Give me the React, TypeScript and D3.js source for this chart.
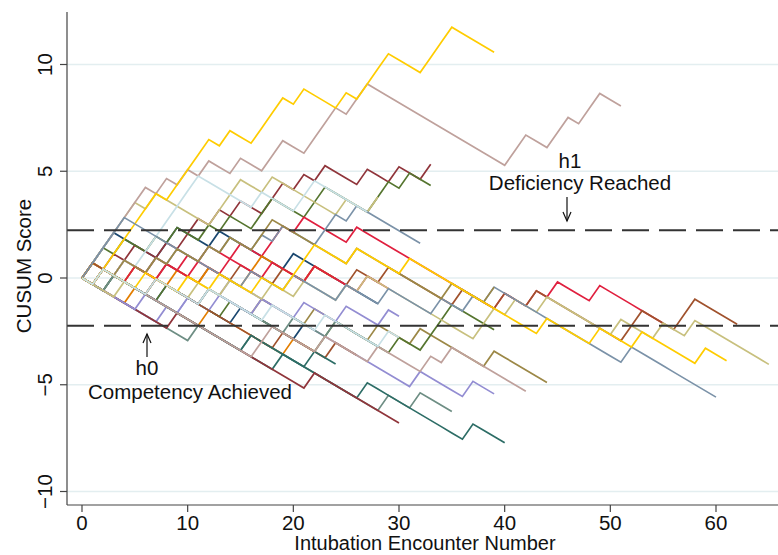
import React from 'react';
import * as d3 from 'd3';

// outcome of each intubation encounter, in order: 1 = failure, 0 = success
// (spaces only group the runs, they are stripped)
const navyA = '111 0000 11 000 1 000000 1 00000000';
const maroonA = '1010100101101 0 1 00 11 0 1 0 1 000 1 00 1 00 1';
const forestA = '1101001010010100 11 000 11 0000 1 1 0 1 00';
const orangeA = '00001 0000001 00000001 00';
const tealA = '0000000000 1 0000 1 00 0000000000 1 00 1 000';
const cranA = '010100100101001001 1 0 1 000 0 1 0000000000000 1 00 1 0 1 000 1 000000';
const lavA = '0000000 1010101 00000000000000000 1 0000 1 00';
const khakiA = '11111 0 1 00000 111 00 1 000000 1 00 1';
const siennaA = '1000 100 1000 100 1000 100 1000 100 1000 000 1 000 1 00 1 0 0000000 11 000 11 0000';
const emidA = '0101001010010100101000 11 0 1 000000';
const emeraldA = '01 0000000000000000 1 0000000 1 000000000 1 000';
const brownA = '01 00001 00001 00001 00001 000001 000 1 000000 1 00000';
const eroseA = '111111 0 1 0 1 0 1 00 1 00 11 00 111 0 11 0000000000000 11 00 11 0 11 00';
const goldA = '101 1111 0 1111 0 1 00 111 0 1 000 1 0 111 000 111 0000';
const lightblueA = '01010111111 00000 1 000 11 00000';
const navyB = '00100001000000100000 1';
const maroonB = '00000000 1 000000000000 1 00000000';
const forestB = '001 00001 000001 000000001 1 00000 1 00 111 0000';
const orangeB = '0100100010010001 1000 0100';
const tealB = '001000100001 0000000 1 000 1 0000';
const cranB = '01001001001001 000 1 000 1 0000 1 00';
const lavB = '00000 1 000 1 00 1 000 1 000 1 000 1 000 1 0';
const khakiB = '0001 001 0001 001 0001 001 0001 01 0000000000 11 0 1 00 1 000000 1 000 1 00 1 0000000';
const siennaB = '100000100000 000000 1 0000 1 00';
const emidB = '1111 00000000 000100010000100010000100 1 0 1 000000000000 1 00000000';
const emeraldB = '01 0000000000000 1 00000 1 00';
const brownB = '01010010100101001 1 000000 0 1 0 0000000 1 000 1';
const eroseB = '01000000000000001 1 0000 1 0000 1 0000 1 0 1 0000000';
const goldB = '01 0001 0001 001 0001 001 11 000 1 0000 1 00000000 0000 1 0000 1 000 1 00000 1 00';
const lightblueB = '01 00001 00001 000001 00001 00000 1 0';

const trainees = [
  navyA, maroonA, forestA, orangeA, tealA, cranA, lavA, khakiA, siennaA, emidA,
  emeraldA, brownA, eroseA, goldA, lightblueA,
  navyB, maroonB, forestB, orangeB, tealB, cranB, lavB, khakiB, siennaB, emidB,
  emeraldB, brownB, eroseB, goldB, lightblueB,
];

// Stata s1color-like pen colours
const palette = [
  '#1a476f', '#90353b', '#55752f', '#e37e00', '#6e8e84',
  '#e0203f', '#938dd2', '#c8c07e', '#a0522d', '#7b92a8',
  '#2d6d66', '#9c8847', '#bfa19c', '#ffcc00', '#c8e0e6',
];

// CUSUM increments (p0 = 0.2, p1 = 0.4) and decision limits
const failStep = 0.707;
const successStep = -0.293;
const h1 = 2.24;
const h0 = -2.24;

const yTicks = [-10, -5, 0, 5, 10];
const xTicks = [0, 10, 20, 30, 40, 50, 60];

const font = '"Liberation Sans", Arial, Helvetica, sans-serif';

const App = () => {
  const left = 67;
  const right = 778;
  const top = 12;
  const bottom = 505;

  const x = d3.scaleLinear().domain([0, 60]).range([82, 716]);
  const y = d3.scaleLinear().domain([-10, 10]).range([491.5, 64.5]);

  const line = d3
    .line<[number, number]>()
    .x(d => x(d[0]))
    .y(d => y(d[1]));

  const paths = trainees.map(s => {
    const steps = s.replace(/ /g, '').split('').map(c => (c === '1' ? failStep : successStep));
    const vals = [0, ...Array.from(d3.cumsum(steps))];
    return vals.map((v, i) => [i, v] as [number, number]);
  });

  const fmt = (v: number) => (v < 0 ? '\u2212' + Math.abs(v) : String(v));

  return (
    <svg
      width={778}
      height={555}
      style={{ position: 'absolute', left: 0, top: 0, background: '#fff' }}
      fontFamily={font}
    >
      {/* grid */}
      {yTicks.map(t => (
        <line key={'g' + t} x1={left} x2={right} y1={y(t)} y2={y(t)} stroke="#e3eef0" strokeWidth={1.6} />
      ))}

      {/* series */}
      {paths.map((p, i) => (
        <path
          key={i}
          d={line(p) || ''}
          fill="none"
          stroke={palette[i % palette.length]}
          strokeWidth={1.7}
          strokeLinejoin="miter"
        />
      ))}

      {/* decision limits */}
      {[h1, h0].map(h => (
        <line
          key={'h' + h}
          x1={left}
          x2={right}
          y1={y(h)}
          y2={y(h)}
          stroke="#333"
          strokeWidth={2}
          strokeDasharray="27 10"
        />
      ))}

      {/* axes */}
      <line x1={left} x2={left} y1={top} y2={bottom} stroke="#444" strokeWidth={1.2} />
      <line x1={left} x2={right} y1={bottom} y2={bottom} stroke="#444" strokeWidth={1.2} />
      {yTicks.map(t => (
        <g key={'yt' + t}>
          <line x1={left - 7} x2={left} y1={y(t)} y2={y(t)} stroke="#444" strokeWidth={1.2} />
          <text
            transform={`translate(52,${y(t)}) rotate(-90)`}
            textAnchor="middle"
            fontSize={20.5}
            fill="#111"
          >
            {fmt(t)}
          </text>
        </g>
      ))}
      {xTicks.map(t => (
        <g key={'xt' + t}>
          <line x1={x(t)} x2={x(t)} y1={bottom} y2={bottom + 7} stroke="#444" strokeWidth={1.2} />
          <text x={x(t)} y={530} textAnchor="middle" fontSize={20.5} fill="#111">
            {t}
          </text>
        </g>
      ))}
      <text transform="translate(31,266) rotate(-90)" textAnchor="middle" fontSize={20.5} fill="#111">
        CUSUM Score
      </text>
      <text x={425} y={550} textAnchor="middle" fontSize={20} fill="#111">
        Intubation Encounter Number
      </text>

      {/* annotations */}
      <text x={570} y={168} textAnchor="middle" fontSize={20.5} fill="#111">h1</text>
      <text x={580} y={190} textAnchor="middle" fontSize={20.5} fill="#111">Deficiency Reached</text>
      <line x1={567} x2={567} y1={197} y2={221} stroke="#111" strokeWidth={1.2} />
      <polyline points="563,212 567,221 571,212" fill="none" stroke="#111" strokeWidth={1.2} />

      <text x={147} y={375} textAnchor="middle" fontSize={20.5} fill="#111">h0</text>
      <text x={190} y={399} textAnchor="middle" fontSize={20.5} fill="#111">Competency Achieved</text>
      <line x1={147} x2={147} y1={334} y2={357} stroke="#111" strokeWidth={1.2} />
      <polyline points="143,343 147,334 151,343" fill="none" stroke="#111" strokeWidth={1.2} />
    </svg>
  );
};

export default App;
